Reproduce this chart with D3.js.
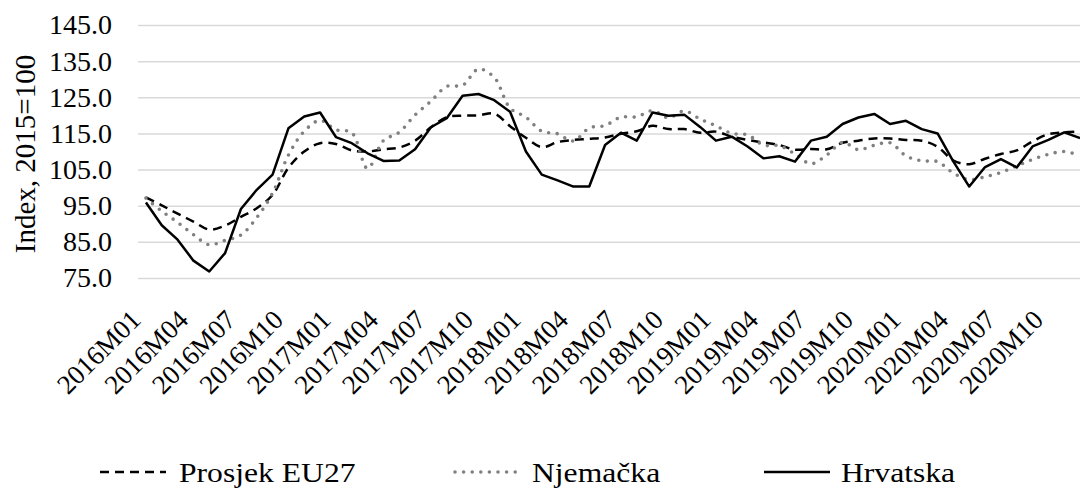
<!DOCTYPE html>
<html>
<head>
<meta charset="utf-8">
<script src="https://cdn.jsdelivr.net/npm/d3@7"></script>
<style>
  body { margin: 0; background: #fff; }
  svg { display: block; }
</style>
</head>
<body>
<svg id="chart"></svg>
<script>
// data
const years = [2016, 2017, 2018, 2019, 2020]
const months = ["M01","M02","M03","M04","M05","M06","M07","M08","M09","M10","M11","M12"]
const categories = years.flatMap(y => months.map(m => y + m))

const yTicks = [75, 85, 95, 105, 115, 125, 135, 145]
const xTicks = categories.filter((c, i) => i % 3 === 0)

const seriesNames = ["Prosjek EU27", "Njemačka", "Hrvatska"]

const eu27 = [
  97.3, 95.1, 92.8, 90.6, 88.4, 89.5, 91.9, 94.3, 98.0, 105.5, 110.0, 112.3,
  112.1, 110.3, 110.0, 110.6, 111.1, 113.0, 116.7, 119.5, 119.9, 120.0, 120.5, 117.0,
  113.8, 111.2, 112.6, 113.2, 113.5, 113.9, 114.9, 115.6, 117.1, 116.2, 116.2, 115.2,
  115.5, 114.1, 113.2, 112.5, 111.8, 110.5, 110.7, 110.6, 112.4, 113.0, 113.6, 113.6,
  113.2, 113.0, 111.3, 107.5, 106.5, 108.0, 109.3, 110.3, 112.8, 114.8, 115.3, 115.5
]
const njemacka = [
  97.1, 93.5, 90.4, 87.0, 84.2, 85.4, 86.9, 91.7, 98.5, 109.0, 115.6, 118.6,
  116.0, 115.2, 105.3, 113.0, 115.3, 120.1, 123.9, 128.0, 128.3, 132.8, 130.5, 122.0,
  119.5, 115.6, 114.9, 112.9, 116.5, 117.2, 119.5, 119.6, 121.3, 119.3, 121.2, 119.0,
  117.1, 115.0, 114.6, 111.8, 111.6, 109.3, 106.6, 109.0, 112.5, 110.5, 111.7, 112.4,
  108.8, 107.4, 107.2, 104.0, 102.2, 103.0, 104.2, 106.0, 107.8, 109.2, 110.0, 108.8
]
const hrvatska = [
  95.9, 89.6, 85.6, 79.8, 76.8, 81.9, 94.1, 99.4, 103.6, 116.4, 119.7, 120.8,
  114.0, 112.3, 109.5, 107.4, 107.5, 110.6, 116.7, 119.2, 125.4, 125.9, 124.2, 121.0,
  110.0, 103.6, 102.0, 100.3, 100.3, 111.8, 115.2, 113.0, 120.8, 119.9, 120.2, 116.8,
  113.0, 114.1, 111.4, 108.1, 108.7, 107.2, 113.0, 114.1, 117.6, 119.4, 120.4, 117.6,
  118.5, 116.2, 115.0, 107.2, 100.3, 105.7, 107.9, 105.6, 111.4, 113.2, 115.3, 113.7
]

// layout
const WIDTH = 1080
const HEIGHT = 491
const MARGIN = { left: 138, top: 25, right: -8, bottom: 213 }
const plotW = WIDTH - MARGIN.left - MARGIN.right
const plotH = HEIGHT - MARGIN.top - MARGIN.bottom
const FONT = "Liberation Serif"

const svg = d3.select("#chart").attr("width", WIDTH).attr("height", HEIGHT)

const x = d3.scaleBand().domain(categories).range([MARGIN.left, MARGIN.left + plotW])
const cx = c => x(c) + x.bandwidth() / 2
const y = d3.scaleLinear().domain([75, 145]).range([MARGIN.top + plotH, MARGIN.top])

// gridlines + y labels
const yAxis = svg.append("g")
  .attr("transform", `translate(${MARGIN.left},0)`)
  .call(d3.axisLeft(y).tickValues(yTicks).tickFormat(d3.format(".1f")).tickSize(-plotW).tickPadding(26))
  .attr("font-family", FONT).attr("font-size", 28)
yAxis.select(".domain").remove()
yAxis.selectAll("line").attr("stroke", "#d9d9d9").attr("stroke-width", 1.5)
yAxis.selectAll("text").attr("fill", "#000")

// x labels
const xAxis = svg.append("g")
  .attr("transform", `translate(0,${MARGIN.top + plotH})`)
  .call(d3.axisBottom(x).tickValues(xTicks).tickSize(0).tickFormat(d => d))
  .attr("font-family", FONT).attr("font-size", 27)
xAxis.select(".domain").remove()
xAxis.selectAll("text")
  .attr("fill", "#000")
  .attr("text-anchor", "end")
  .attr("dominant-baseline", "central")
  .attr("y", 0).attr("dy", null)
  .attr("transform", "translate(-10,37) rotate(-45)")

// y title
svg.append("text")
  .attr("transform", "translate(25,154) rotate(-90)")
  .attr("text-anchor", "middle")
  .attr("dominant-baseline", "central")
  .attr("font-family", FONT)
  .attr("font-size", 29)
  .text("Index, 2015=100")

// lines
const styles = [
  { data: eu27, stroke: "#000", width: 2.5, dash: "9,6", cap: "butt", curve: d3.curveCatmullRom.alpha(0.5) },
  { data: njemacka, stroke: "#808080", width: 3.6, dash: "0,8.6", cap: "round", curve: d3.curveCatmullRom.alpha(0.5) },
  { data: hrvatska, stroke: "#000", width: 2.5, dash: null, cap: "butt", curve: d3.curveLinear }
]

styles.forEach(s => {
  const line = d3.line()
    .x((d, i) => cx(categories[i]))
    .y(d => y(d))
    .curve(s.curve)
  svg.append("path")
    .datum(s.data)
    .attr("fill", "none")
    .attr("stroke", s.stroke)
    .attr("stroke-width", s.width)
    .attr("stroke-dasharray", s.dash)
    .attr("stroke-linecap", s.cap)
    .attr("stroke-linejoin", "round")
    .attr("d", line)
})

// legend
const legendX = [100, 455, 764]
const legendY = 472
seriesNames.forEach((name, i) => {
  const s = styles[i]
  const g = svg.append("g").attr("transform", `translate(${legendX[i]},${legendY})`)
  g.append("line")
    .attr("x1", 0).attr("x2", 66).attr("y1", 0).attr("y2", 0)
    .attr("stroke", s.stroke)
    .attr("stroke-width", s.width)
    .attr("stroke-dasharray", s.dash)
    .attr("stroke-linecap", s.cap)
  g.append("text")
    .attr("transform", `translate(${i === 0 ? 79 : 77},0) scale(1.13,1)`)
    .attr("dominant-baseline", "central")
    .attr("font-family", FONT)
    .attr("font-size", 28)
    .text(name)
})
</script>
</body>
</html>
